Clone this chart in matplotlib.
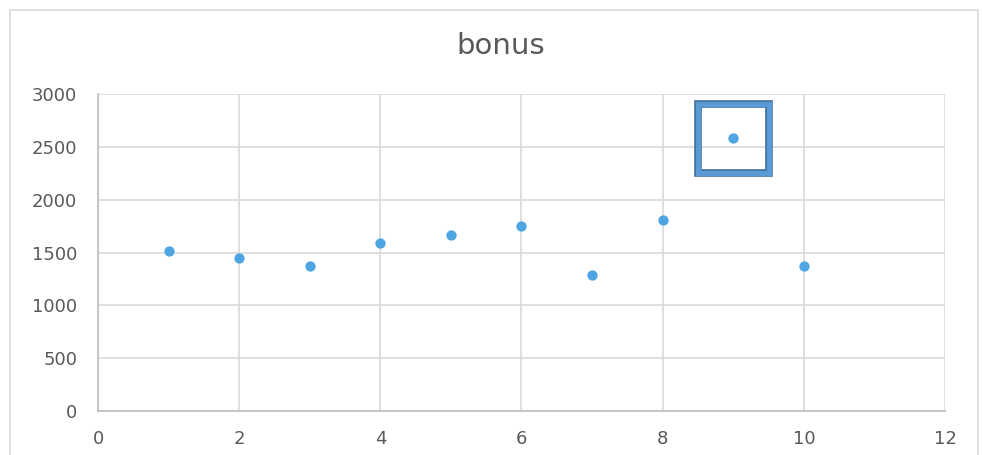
import matplotlib.pyplot as plt
from matplotlib.patches import Rectangle

# data
x_values = [1, 2, 3, 4, 5, 6, 7, 8, 9, 10]
bonus = [1510, 1450, 1370, 1590, 1670, 1750, 1290, 1810, 2580, 1370]
highlight_index = 8  # the point framed by the blue box

x_ticks = [0, 2, 4, 6, 8, 10, 12]
y_ticks = [0, 500, 1000, 1500, 2000, 2500, 3000]

text_color = '#595959'
grid_color = '#d9d9d9'
point_color = '#4fa5e2'

fig = plt.figure(figsize=(9.82, 4.55), dpi=100)
ax = fig.add_axes([0.0998, 0.0967, 0.8625, 0.6967])

# outer chart frame
fig.patches.append(Rectangle((10 / 982, -0.05), 968 / 982, 1 - 10 / 455 + 0.05,
                             transform=fig.transFigure, fill=False,
                             edgecolor='#d9d9d9', linewidth=1.2))

ax.scatter(x_values, bonus, s=55, color=point_color, zorder=3, linewidths=0)

# highlight box around one point
hx, hy = x_values[highlight_index], bonus[highlight_index]
ax.add_patch(Rectangle((hx - 0.5, hy - 330), 1.0, 660, fill=False,
                       edgecolor='#41719c', linewidth=5.5, zorder=4))
ax.add_patch(Rectangle((hx - 0.5, hy - 330), 1.0, 660, fill=False,
                       edgecolor='#5b9bd5', linewidth=3.8, zorder=5))

ax.set_xlim(0, 12)
ax.set_ylim(0, 3000)
ax.set_xticks(x_ticks)
ax.set_yticks(y_ticks)
ax.grid(True, color=grid_color, linewidth=1.2)
ax.set_axisbelow(True)
for side in ['top', 'right']:
    ax.spines[side].set_visible(False)
for side in ['left', 'bottom']:
    ax.spines[side].set_color('#bfbfbf')
    ax.spines[side].set_linewidth(1.2)
ax.tick_params(length=0, labelsize=13, labelcolor=text_color, pad=14)
ax.tick_params(axis='y', pad=15)

fig.text(0.51, 1 - 46 / 455, 'bonus', ha='center', va='center',
         fontsize=21, color=text_color)

plt.savefig('out.png', dpi=100)
